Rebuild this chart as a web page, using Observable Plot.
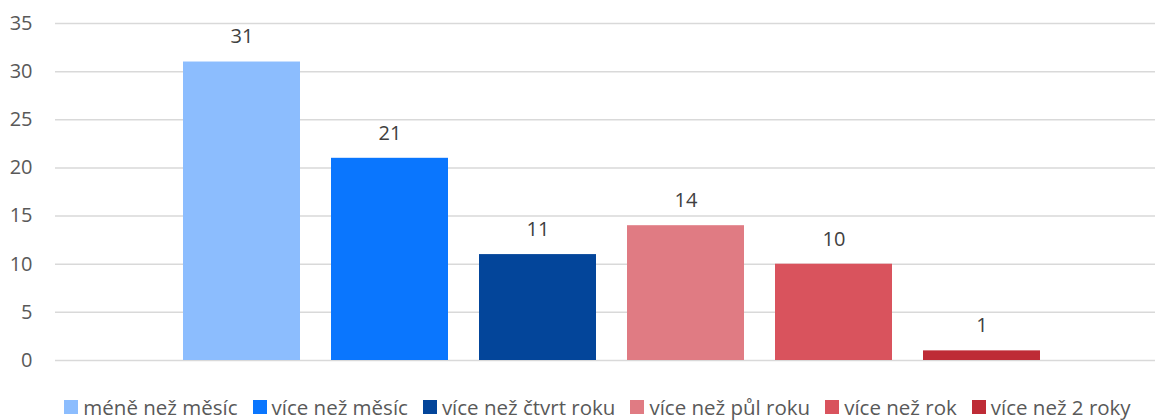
<!DOCTYPE html>
<html><head><meta charset="utf-8">
<script src="https://cdn.jsdelivr.net/npm/d3@7"></script>
<script src="https://cdn.jsdelivr.net/npm/@observablehq/plot@0.6"></script>
<style>
body{margin:0;background:#fff;font-family:"Open Sans",sans-serif;overflow:hidden;}
#legend{display:flex;justify-content:center;gap:15px;font-size:20.5px;line-height:26px;color:#595959;margin-top:14px;padding-left:40px;}
#legend span.item{display:flex;align-items:center;gap:5px;white-space:nowrap;}
#legend span.sw{display:inline-block;width:14px;height:14px;}
</style></head>
<body><div id="chart"></div><div id="legend"></div>
<script>
const categories = ["méně než měsíc","více než měsíc","více než čtvrt roku","více než půl roku","více než rok","více než 2 roky"];
const values = [31, 21, 11, 14, 10, 1];
const colors = ["#8CBDFE","#0A76FE","#03459A","#E07B83","#D9535D","#BE2B36"];
const yTicks = [0,5,10,15,20,25,30,35];

const data = categories.map((c,i)=>({cat:c, v:values[i]}));

const plot = Plot.plot({
  width:1155, height:380,
  marginLeft:55, marginRight:0, marginTop:23, marginBottom:20,
  style:{fontFamily:"'Open Sans', sans-serif", fontSize:"20px", background:"#fff"},
  x:{domain:categories, range:[167.5,1055.5], paddingInner:0.2095, paddingOuter:0.1047, axis:null},
  y:{domain:[0,35], ticks:yTicks},
  color:{domain:categories, range:colors},
  marks:[
    Plot.gridY(yTicks,{stroke:"#d9d9d9", strokeOpacity:1, strokeWidth:1.5}),
    Plot.axisY(yTicks,{tickSize:0, tickPadding:23, fill:"#595959", fontSize:20, label:null}),
    Plot.barY(data,{x:"cat", y:"v", fill:"cat"}),
    Plot.text(data,{x:"cat", y:"v", text:d=>String(d.v), dy:-25, fill:"#404040", fontSize:20})
  ]
});
document.getElementById("chart").appendChild(plot);
const lg = document.getElementById("legend");
categories.forEach((c,i)=>{
  const it=document.createElement("span");it.className="item";
  const sw=document.createElement("span");sw.className="sw";sw.style.background=colors[i];
  it.appendChild(sw);it.appendChild(document.createTextNode(c));lg.appendChild(it);
});
</script></body></html>
